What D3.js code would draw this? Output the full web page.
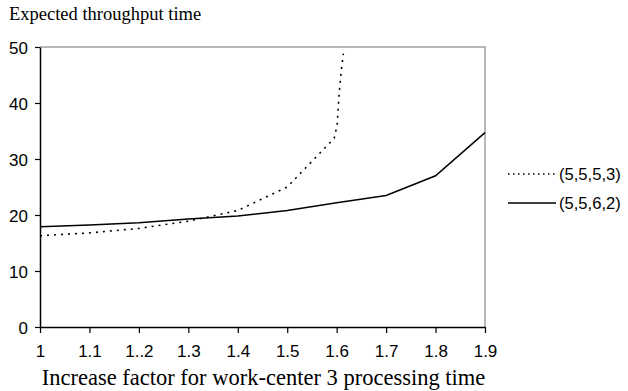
<!DOCTYPE html>
<html><head><meta charset="utf-8">
<script src="https://cdn.jsdelivr.net/npm/d3@7"></script>
<style>body{margin:0;background:#fff}svg{display:block}</style>
</head><body>
<svg id="chart" width="628" height="391"></svg>
<script>
const xTicks = [1, 1.1, 1.2, 1.3, 1.4, 1.5, 1.6, 1.7, 1.8, 1.9];
const xTickLabels = ["1", "1.1", "1..2", "1.3", "1.4", "1.5", "1.6", "1.7", "1.8", "1.9"];
const yTicks = [0, 10, 20, 30, 40, 50];
const seriesNames = ["(5,5,5,3)", "(5,5,6,2)"];
const x5553 = [1, 1.1, 1.2, 1.3, 1.4, 1.5, 1.595, 1.601, 1.605, 1.609, 1.6135];
const y5553 = [16.3, 16.8, 17.6, 18.9, 20.8, 25, 33.7, 36.1, 41.7, 45.5, 48.8];
const x5562 = [1, 1.1, 1.2, 1.3, 1.4, 1.5, 1.6, 1.7, 1.8, 1.9];
const y5562 = [17.9, 18.2, 18.6, 19.3, 19.8, 20.8, 22.2, 23.5, 27, 34.7];

const svg = d3.select("#chart");
const L = 40, R = 485, T = 47, B = 327;
const x = d3.scaleLinear().domain([1, 1.9]).range([L, R]);
const y = d3.scaleLinear().domain([0, 50]).range([B, T]);
const sans = "Liberation Sans, Arial, sans-serif";
const serif = "Liberation Serif, Times New Roman, serif";

svg.append("path").attr("d", `M${L},${T}H${R}V${B}`).attr("fill", "none")
  .attr("stroke", "#a0a0a0").attr("stroke-width", 1.5);

const xAxis = d3.axisBottom(x).tickValues(xTicks)
  .tickFormat((d, i) => xTickLabels[i]).tickSize(6).tickSizeOuter(0);
const gx = svg.append("g").attr("transform", `translate(0,${B})`).call(xAxis);
gx.select(".domain").attr("stroke", "#000").attr("stroke-width", 1.5);
gx.selectAll(".tick line").attr("stroke", "#000").attr("stroke-width", 1.2);
gx.selectAll(".tick text").attr("font-family", sans)
  .attr("font-size", 17).attr("fill", "#000").attr("y", 14.5).attr("dy", "0.9em");

const yAxis = d3.axisLeft(y).tickValues(yTicks).tickSize(5).tickSizeOuter(0);
const gy = svg.append("g").attr("transform", `translate(${L},0)`).call(yAxis);
gy.select(".domain").attr("stroke", "#000").attr("stroke-width", 1.5);
gy.selectAll(".tick line").attr("stroke", "#000").attr("stroke-width", 1.2);
gy.selectAll(".tick text").attr("font-family", sans)
  .attr("font-size", 17).attr("fill", "#000").attr("x", -12).attr("dy", "0.36em");

const line = d3.line().x(d => x(d[0])).y(d => y(d[1]));
const d1 = x5553.map((v, i) => [v, y5553[i]]);
const d2 = x5562.map((v, i) => [v, y5562[i]]);
svg.append("path").datum(d1).attr("d", line).attr("fill", "none")
  .attr("stroke", "#000").attr("stroke-width", 1.6).attr("stroke-dasharray", "2,5");
svg.append("path").datum(d2).attr("d", line).attr("fill", "none")
  .attr("stroke", "#000").attr("stroke-width", 1.5);

const leg = svg.append("g");
[[174, "1.5,3.5"], [203, null]].forEach((s, i) => {
  const l = leg.append("line").attr("x1", 508).attr("x2", 556).attr("y1", s[0]).attr("y2", s[0])
    .attr("stroke", "#000").attr("stroke-width", 1.5);
  if (s[1]) l.attr("stroke-dasharray", s[1]).attr("stroke-width", 1.5);
  leg.append("text").attr("x", 559).attr("y", s[0]).attr("dy", "0.36em")
    .attr("font-family", sans).attr("font-size", 16.6)
    .text(seriesNames[i]);
});

svg.append("text").attr("x", 9).attr("y", 20)
  .attr("font-family", serif).attr("font-size", 18.5)
  .text("Expected throughput time");
svg.append("text").attr("x", (L + R) / 2 + 1).attr("y", 385).attr("text-anchor", "middle")
  .attr("font-family", serif).attr("font-size", 22.5)
  .text("Increase factor for work-center 3 processing time");
</script>
</body></html>
